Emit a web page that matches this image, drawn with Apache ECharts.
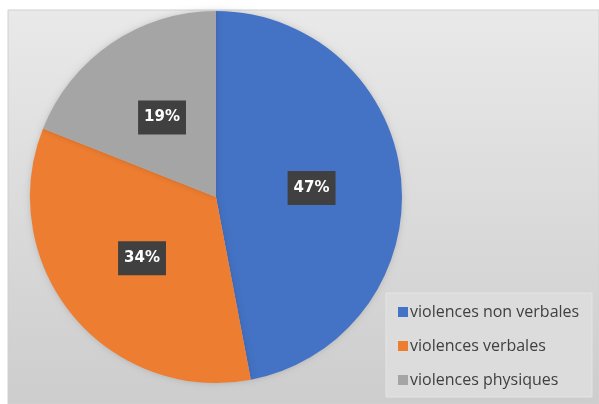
<!DOCTYPE html>
<html>
<head>
<meta charset="utf-8">
<script src="https://cdn.jsdelivr.net/npm/echarts@6/dist/echarts.min.js"></script>
<style>
html, body { margin: 0; padding: 0; background: #ffffff; }
#main { width: 599px; height: 404px; }
</style>
</head>
<body>
<div id="main"></div>
<script type="text/javascript">
// données du graphique
var categories = ['violences non verbales', 'violences verbales', 'violences physiques'];
var values = [47, 34, 19];
var colors = ['#4472C4', '#ED7D31', '#A5A5A5'];

var chart = echarts.init(document.getElementById('main'));

var data = [];
for (var i = 0; i < categories.length; i++) {
	data.push({ name: categories[i], value: values[i] });
}

var option = {
	animation: false,
	color: colors,
	graphic: [{
		type: 'rect',
		z: -10,
		shape: { x: 8, y: 10, width: 591, height: 394 },
		style: {
			fill: new echarts.graphic.LinearGradient(0, 0, 0, 1, [
				{ offset: 0, color: '#e9e9e9' },
				{ offset: 1, color: '#cdcdcd' }
			]),
			stroke: '#d0d0d0',
			lineWidth: 1
		}
	}, {
		type: 'rect',
		z: -5,
		shape: { x: 386, y: 293, width: 206, height: 104 },
		style: {
			fill: '#dcdcdc',
			stroke: '#e4e4e4',
			lineWidth: 1
		}
	}],
	legend: {
		orient: 'vertical',
		left: 393,
		top: 299,
		itemWidth: 10,
		itemHeight: 10,
		itemGap: 18,
		icon: 'rect',
		textStyle: {
			fontFamily: 'Open Sans',
			fontSize: 16,
			color: '#404040',
			padding: [0, 0, 0, -3]
		},
		data: categories
	},
	series: [{
		type: 'pie',
		center: [216, 197],
		radius: [0, 186],
		startAngle: 90,
		clockwise: true,
		label: {
			show: true,
			position: 'inside',
			formatter: '{c}%',
			fontFamily: 'DejaVu Sans',
			fontWeight: 'bold',
			fontSize: 15,
			color: '#ffffff',
			backgroundColor: '#404040',
			padding: [10, 6, 9, 6]
		},
		labelLine: { show: false },
		itemStyle: {
			borderWidth: 0,
			shadowBlur: 6,
			shadowColor: 'rgba(0,0,0,0.15)'
		},
		data: data
	}]
};
chart.setOption(option);
</script>
</body>
</html>
